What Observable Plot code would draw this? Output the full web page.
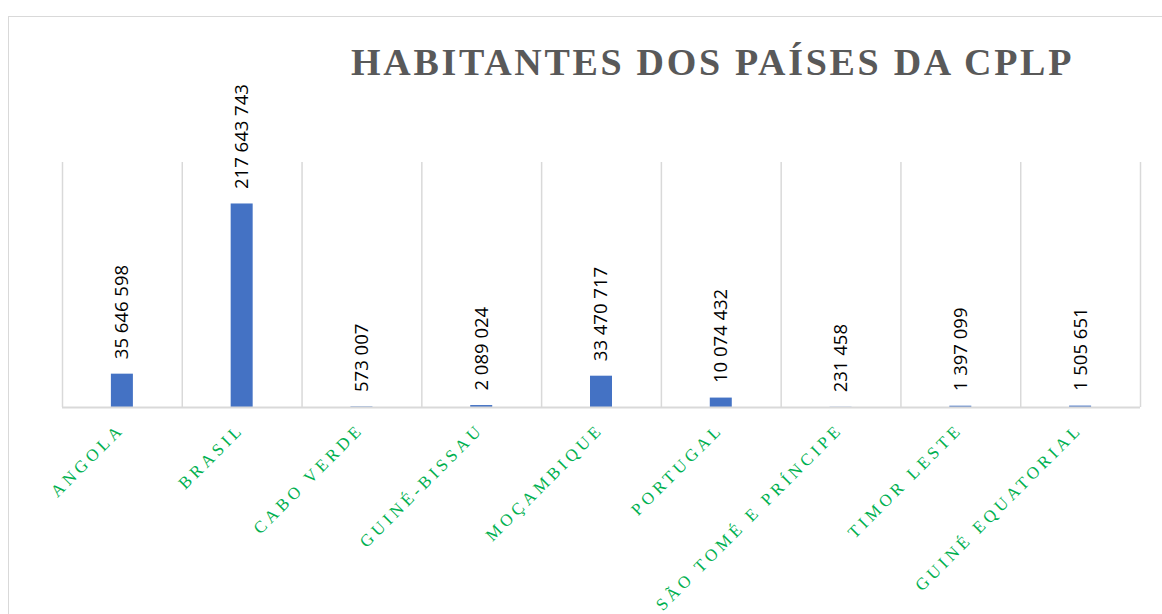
<!DOCTYPE html>
<html>
<head>
<meta charset="utf-8">
<script src="https://cdn.jsdelivr.net/npm/d3@7"></script>
<script src="https://cdn.jsdelivr.net/npm/@observablehq/plot@0.6"></script>
<style>
  html, body { margin: 0; padding: 0; background: #fff; width: 1162px; height: 614px; overflow: hidden; }
  #frame { position: absolute; left: 8px; top: 16px; width: 1200px; height: 700px; border: 1.5px solid #d9d9d9; box-sizing: border-box; }
  #title { position: absolute; left: 351px; top: 43px; font-family: "Liberation Serif", "Times New Roman", serif; font-weight: bold; font-size: 38px; line-height: 38px; letter-spacing: 2.7px; color: #595959; white-space: nowrap; z-index: 2; }
  #chart { position: absolute; left: 0; top: 0; z-index: 1; }
  #chart svg { background: transparent !important; }
  #chart g[aria-label="x-axis tick label"] text { letter-spacing: 4px; }
</style>
</head>
<body>
<div id="frame"></div>
<div id="title">HABITANTES DOS PAÍSES DA CPLP</div>
<div id="chart"></div>
<script>
const paises = ["ANGOLA", "BRASIL", "CABO VERDE", "GUINÉ-BISSAU", "MOÇAMBIQUE", "PORTUGAL", "SÃO TOMÉ E PRÍNCIPE", "TIMOR LESTE", "GUINÉ EQUATORIAL"];
const habitantes = [35646598, 217643743, 573007, 2089024, 33470717, 10074432, 231458, 1397099, 1505651];

const data = paises.map((p, i) => ({pais: p, valor: habitantes[i]}));
const fmt = v => d3.format(",")(v).replace(/,/g, " ");

const W = 1162, H = 614;
const mL = 62, mR = 22, mT = 162, mB = 207;
const bw = (W - mL - mR) / paises.length;
const barW = 22;

const chart = Plot.plot({
  width: W,
  height: H,
  marginLeft: mL,
  marginRight: mR,
  marginTop: mT,
  marginBottom: mB,
  style: {background: "transparent"},
  x: {domain: paises, padding: 0, round: false, axis: null},
  y: {domain: [0, 262e6], axis: null},
  marks: [
    Plot.ruleX(paises, {dx: -bw / 2, stroke: "#d9d9d9", strokeWidth: 1.5}),
    Plot.ruleX([paises[paises.length - 1]], {dx: bw / 2, stroke: "#d9d9d9", strokeWidth: 1.5}),
    Plot.barY(data, {x: "pais", y: "valor", fill: "#4472C4", insetLeft: (bw - barW) / 2, insetRight: (bw - barW) / 2}),
    Plot.ruleY([0], {stroke: "#d9d9d9", strokeWidth: 2}),
    Plot.text(data, {x: "pais", y: "valor", text: d => fmt(d.valor), rotate: -90, textAnchor: "start", lineAnchor: "middle", dy: -15, fontSize: 18.5, fontFamily: "Open Sans, sans-serif", fill: "#000"}),
    Plot.axisX({tickRotate: -45, tickSize: 0, tickPadding: 19, dx: -1, fill: "#00B050", fontSize: 17, fontFamily: "Liberation Serif, Times New Roman, serif", label: null})
  ]
});
document.getElementById("chart").appendChild(chart);
</script>
</body>
</html>
